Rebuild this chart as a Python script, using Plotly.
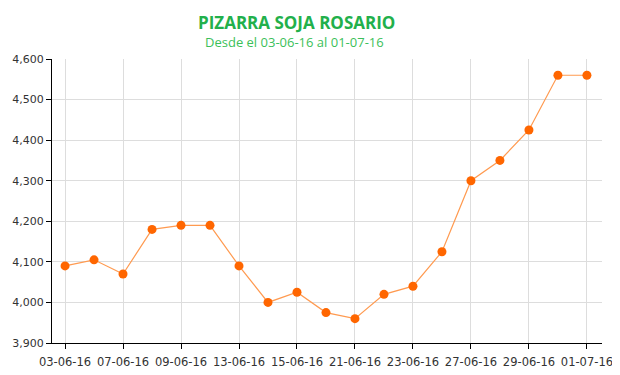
import plotly.graph_objects as go

dates = ["03-06-16", "06-06-16", "07-06-16", "08-06-16", "09-06-16", "10-06-16",
         "13-06-16", "14-06-16", "15-06-16", "16-06-16", "21-06-16", "22-06-16",
         "23-06-16", "24-06-16", "27-06-16", "28-06-16", "29-06-16", "30-06-16",
         "01-07-16"]
prices = [4090, 4105, 4070, 4180, 4190, 4190, 4090, 4000, 4025, 3975, 3960,
          4020, 4040, 4125, 4300, 4350, 4425, 4560, 4560]
x_ticks = dates[::2]
y_ticks = [3900, 4000, 4100, 4200, 4300, 4400, 4500, 4600]

fig = go.Figure()
fig.add_trace(go.Scatter(
    x=dates, y=prices, mode="lines+markers",
    line=dict(color="#FF9A50", width=1.2),
    marker=dict(color="#FF6600", size=9),
    hoverinfo="x+y",
))

# page body has an 8px default margin; size/margins compensate for it
fig.update_layout(
    width=612, height=367,
    margin=dict(l=44, r=18, t=51, b=32),
    paper_bgcolor="white", plot_bgcolor="white",
    showlegend=False,
    font=dict(family="DejaVu Sans", size=10, color="#333333"),
    annotations=[
        dict(text="<b>PIZARRA SOJA ROSARIO</b>", xref="paper", yref="paper",
             x=0.444, y=1.0, yshift=36.5, yanchor="middle", showarrow=False,
             font=dict(family="Open Sans", size=17, color="#22B04B")),
        dict(text="Desde el 03-06-16 al 01-07-16", xref="paper", yref="paper",
             x=0.44, y=1.0, yshift=17, yanchor="middle", showarrow=False,
             font=dict(family="Open Sans", size=13, color="#3CBF5A")),
    ],
)
fig.update_xaxes(
    type="category", range=[-0.45, 18.52], automargin=False,
    tickmode="array", tickvals=x_ticks, ticktext=x_ticks,
    showgrid=True, gridcolor="#DDDDDD", gridwidth=1,
    showline=True, linecolor="black", linewidth=1,
    ticks="outside", ticklen=5, tickcolor="black",
    ticklabelstandoff=3,
    tickfont=dict(family="DejaVu Sans", size=11.5, color="#333333"),
    zeroline=False,
)
fig.update_yaxes(
    range=[3900, 4600], tickmode="array", tickvals=y_ticks, automargin=False,
    tickformat=",d",
    showgrid=True, gridcolor="#DDDDDD", gridwidth=1,
    showline=True, linecolor="black", linewidth=1,
    ticks="outside", ticklen=5, tickcolor="black",
    tickfont=dict(family="DejaVu Sans", size=11, color="#333333"),
    zeroline=False,
)

fig.write_html("out.html")
